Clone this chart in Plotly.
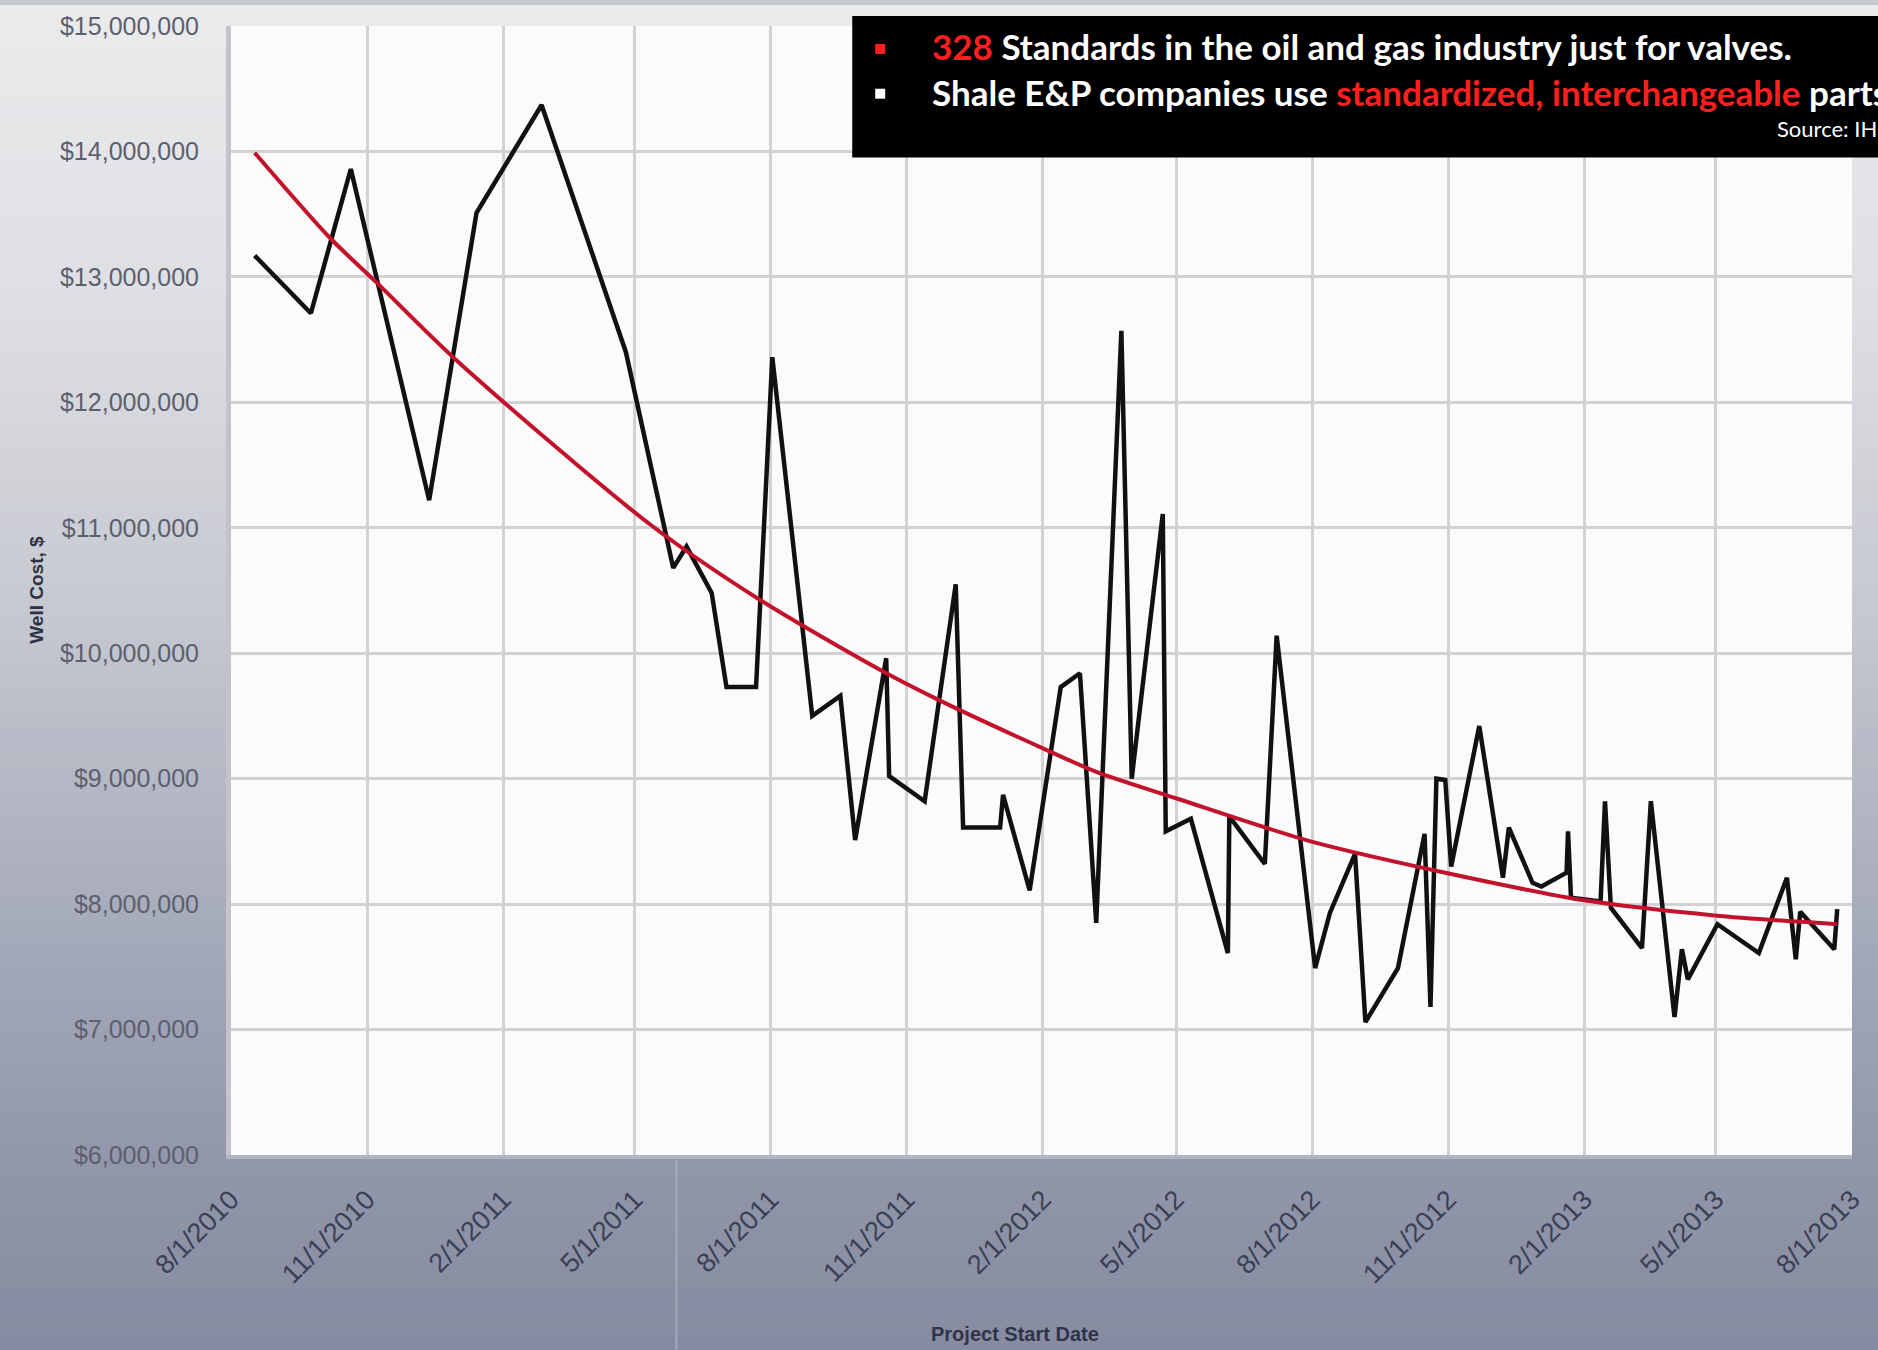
import plotly.graph_objects as go

# ---------------- data ----------------
cost_dates = [
    "2010-08-17", "2010-09-24", "2010-10-21", "2010-12-13", "2011-01-14", "2011-02-27", "2011-04-25",
    "2011-05-27", "2011-06-05", "2011-06-22", "2011-07-02", "2011-07-22", "2011-08-02", "2011-08-29",
    "2011-09-17", "2011-09-27", "2011-10-18", "2011-10-20", "2011-11-13", "2011-12-04", "2011-12-09",
    "2012-01-03", "2012-01-05", "2012-01-23", "2012-02-13", "2012-02-26", "2012-03-08", "2012-03-25",
    "2012-04-01", "2012-04-22", "2012-04-24", "2012-05-11", "2012-06-05", "2012-06-06", "2012-06-30",
    "2012-07-08", "2012-08-03", "2012-08-13", "2012-08-30", "2012-09-06", "2012-09-28", "2012-10-16",
    "2012-10-20", "2012-10-24", "2012-10-30", "2012-11-03", "2012-11-22", "2012-12-08", "2012-12-12",
    "2012-12-28", "2013-01-03", "2013-01-20", "2013-01-21", "2013-01-23", "2013-02-12", "2013-02-15",
    "2013-02-19", "2013-03-12", "2013-03-18", "2013-04-03", "2013-04-08", "2013-04-12", "2013-05-02",
    "2013-05-30", "2013-06-18", "2013-06-24", "2013-06-27", "2013-07-20", "2013-07-22",
]
cost_values = [
    13170000, 12710000, 13860000, 11220000, 13510000, 14370000, 12400000,
    10680000, 10850000, 10480000, 9730000, 9730000, 12360000, 9500000,
    9660000, 8510000, 9960000, 9020000, 8820000, 10550000, 8610000,
    8610000, 8870000, 8110000, 9730000, 9840000, 7850000, 12570000,
    9000000, 11110000, 8580000, 8680000, 7610000, 8700000, 8320000,
    10140000, 7490000, 7930000, 8400000, 7060000, 7490000, 8560000,
    7180000, 9000000, 8990000, 8300000, 9420000, 8210000, 8610000,
    8170000, 8140000, 8250000, 8580000, 8050000, 8020000, 8820000,
    7970000, 7650000, 8820000, 7100000, 7640000, 7400000, 7840000,
    7610000, 8210000, 7560000, 7940000, 7640000, 7960000,
]

trend_dates = [
    "2010-08-17", "2010-10-07", "2010-11-07", "2010-12-31", "2011-05-11", "2011-07-24",
    "2011-10-15", "2011-11-22", "2012-02-05", "2012-03-09", "2012-05-02", "2012-07-31",
    "2012-10-30", "2013-02-01", "2013-04-30", "2013-07-22",
]
trend_values = [
    13990000, 13310000, 12960000, 12340000, 11030000, 10430000,
    9860000, 9630000, 9220000, 9050000, 8840000, 8500000,
    8250000, 8030000, 7910000, 7840000,
]

x_range = ["2010-08-01", "2013-08-01"]
y_range = [6000000, 15000000]

x_title = "Project Start Date"
y_title = "Well Cost, $"
note_line1 = "<b><span style='color:#ff1f1f'>328</span> Standards in the oil and gas industry just for valves.</b>"
note_line2 = ("<b>Shale E&amp;P companies use <span style='color:#ff1f1f'>standardized, "
              "interchangeable</span> parts</b>")
note_source = "Source: IHS"

# ---------------- layout geometry ----------------
W, H = 1878, 1350
ML, MR, MT, MB = 231, 24, 21, 195
PW, PH = W - ML - MR, H - MT - MB


def px(x):
    return (x - ML) / PW


def py(y):
    return (H - MB - y) / PH


def lerp_color(stops, t):
    for (t0, c0), (t1, c1) in zip(stops, stops[1:]):
        if t0 <= t <= t1:
            f = (t - t0) / (t1 - t0) if t1 > t0 else 0
            rgb = [int(round(a + (b - a) * f)) for a, b in zip(c0, c1)]
            return "rgb(%d,%d,%d)" % tuple(rgb)
    return "rgb(%d,%d,%d)" % stops[-1][1]


bg_stops = [
    (0, (235, 235, 237)),
    (300, (222, 223, 227)),
    (600, (199, 201, 209)),
    (900, (168, 173, 188)),
    (1155, (146, 151, 171)),
    (1350, (134, 139, 161)),
]

shapes = []
band = 10
for y0 in range(0, H, band):
    col = lerp_color(bg_stops, y0 + band / 2)
    shapes.append(dict(type="rect", xref="paper", yref="paper",
                       x0=px(-5), x1=px(W + 5), y0=py(y0 + band + 1), y1=py(y0),
                       fillcolor=col, line=dict(width=0), layer="below"))
# plot area
shapes.append(dict(type="rect", xref="paper", yref="paper", x0=0, x1=1, y0=0, y1=1,
                   fillcolor="#fbfbfb", line=dict(width=0), layer="below"))
# faint vertical seam in the bottom band
shapes.append(dict(type="line", xref="paper", yref="paper", x0=px(677), x1=px(677),
                   y0=py(1160), y1=py(H), line=dict(color="#a4a9bc", width=2), layer="below"))
# black callout box
shapes.append(dict(type="rect", xref="paper", yref="paper",
                   x0=px(853), x1=px(W + 10), y0=py(153), y1=py(11),
                   fillcolor="#000000", line=dict(width=0), layer="above"))
# bullets
shapes.append(dict(type="rect", xref="paper", yref="paper",
                   x0=px(876), x1=px(886), y0=py(49), y1=py(39),
                   fillcolor="#ff1f1f", line=dict(width=0), layer="above"))
shapes.append(dict(type="rect", xref="paper", yref="paper",
                   x0=px(876), x1=px(886), y0=py(94), y1=py(84),
                   fillcolor="#ffffff", line=dict(width=0), layer="above"))

note_font = "Lato, Liberation Sans Narrow, sans-serif"
annotations = [
    dict(xref="paper", yref="paper", x=px(931), y=py(41), xanchor="left", yanchor="middle",
         text=note_line1, showarrow=False, font=dict(family=note_font, size=35, color="#ffffff")),
    dict(xref="paper", yref="paper", x=px(931), y=py(87), xanchor="left", yanchor="middle",
         text=note_line2, showarrow=False, font=dict(family=note_font, size=35, color="#ffffff")),
    dict(xref="paper", yref="paper", x=px(1777), y=py(124), xanchor="left", yanchor="middle",
         text=note_source, showarrow=False, font=dict(family=note_font, size=22, color="#ffffff")),
    dict(xref="paper", yref="paper", x=px(36), y=py(587), xanchor="center", yanchor="middle",
         text="<b>" + y_title + "</b>", textangle=-90, showarrow=False,
         font=dict(family="Liberation Sans, Arial, sans-serif", size=19, color="#2e3142")),
    dict(xref="paper", yref="paper", x=px(1016), y=py(1335), xanchor="center", yanchor="middle",
         text="<b>" + x_title + "</b>", showarrow=False,
         font=dict(family="Liberation Sans, Arial, sans-serif", size=20, color="#30344a")),
]

fig = go.Figure()
fig.add_trace(go.Scatter(x=cost_dates, y=cost_values, mode="lines",
                         line=dict(color="#111111", width=4.5), hoverinfo="skip"))
fig.add_trace(go.Scatter(x=trend_dates, y=trend_values, mode="lines",
                         line=dict(color="#c3122b", width=4, shape="spline", smoothing=0.8),
                         hoverinfo="skip"))

fig.update_layout(
    width=W, height=H,
    margin=dict(l=ML, r=MR, t=MT, b=MB, pad=0),
    paper_bgcolor="#c7c9d1",
    plot_bgcolor="#fbfbfb",
    showlegend=False,
    shapes=shapes,
    annotations=annotations,
    xaxis=dict(
        type="date", range=x_range, tick0="2010-08-01", dtick="M3",
        tickformat="%-m/%-d/%Y", tickangle=-45,
        showgrid=True, gridcolor="#d2d2d4", gridwidth=3,
        showline=True, linecolor="#b3b6c0", linewidth=4,
        ticks="", ticklabelstandoff=14,
        tickfont=dict(family="Liberation Sans, Arial, sans-serif", size=27, color="#3b4055"),
        zeroline=False,
    ),
    yaxis=dict(
        range=y_range, dtick=1000000, tickprefix="$", tickformat=",d",
        showgrid=True, gridcolor="#d2d2d4", gridwidth=3,
        showline=True, linecolor="#c4c4c8", linewidth=5,
        ticks="", ticklabelstandoff=22,
        tickfont=dict(family="Liberation Sans, Arial, sans-serif", size=25, color="#5c5f6e"),
        zeroline=False,
    ),
)

fig.write_html("out.html", config={"displayModeBar": False},
               post_script="document.body.style.margin='0';document.body.style.overflow='hidden';")
